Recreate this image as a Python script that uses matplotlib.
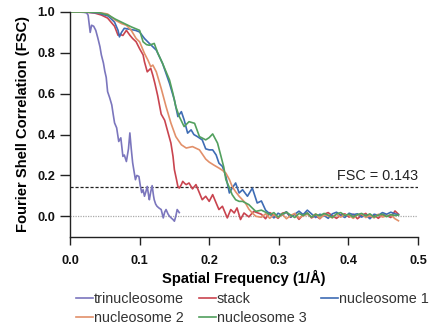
import matplotlib
matplotlib.use("Agg")
import matplotlib.pyplot as plt

plt.rcParams['font.family'] = ['Liberation Sans', 'DejaVu Sans']

# FSC curves (spatial frequency in 1/A, FSC)
tri_x = [0, 0.01, 0.02, 0.024, 0.026, 0.029, 0.031, 0.034, 0.037, 0.040,
         0.043, 0.045, 0.048, 0.050, 0.052, 0.054, 0.057, 0.060, 0.062, 0.064,
         0.067, 0.070, 0.073, 0.076, 0.078, 0.081, 0.084, 0.086, 0.088, 0.090,
         0.092, 0.094, 0.096, 0.099, 0.101, 0.103, 0.105, 0.107, 0.109, 0.111,
         0.113, 0.114, 0.116, 0.118, 0.120, 0.121, 0.123, 0.125, 0.128, 0.131,
         0.134, 0.136, 0.138, 0.141, 0.143, 0.146, 0.148, 0.150, 0.152, 0.154,
         0.157]
tri_y = [1.0, 1.0, 0.998, 0.995, 0.984, 0.90, 0.935, 0.93, 0.91, 0.872,
         0.83, 0.79, 0.75, 0.71, 0.68, 0.61, 0.58, 0.545, 0.50, 0.457,
         0.433, 0.366, 0.384, 0.293, 0.30, 0.268, 0.33, 0.408, 0.33, 0.262,
         0.22, 0.179, 0.20, 0.195, 0.15, 0.116, 0.13, 0.098, 0.12, 0.146,
         0.10, 0.081, 0.12, 0.15, 0.10, 0.081, 0.06, 0.049, 0.04, 0.033,
         -0.008, 0.02, 0.033, 0.01, 0.0, -0.01, -0.016, -0.024, 0.0, 0.033,
         0.018]

stack_x = [0, 0.02, 0.035, 0.045, 0.054, 0.064, 0.069, 0.072, 0.076, 0.081,
           0.086, 0.090, 0.095, 0.100, 0.105, 0.107, 0.111, 0.116, 0.119, 0.122,
           0.126, 0.131, 0.136, 0.140, 0.145, 0.148, 0.150, 0.153, 0.155, 0.157,
           0.160, 0.162, 0.165, 0.167, 0.171, 0.176, 0.181, 0.186, 0.190, 0.195,
           0.200, 0.205, 0.210, 0.214, 0.219, 0.226, 0.231, 0.236, 0.240, 0.245,
           0.250, 0.257, 0.264]
stack_y = [1.0, 1.0, 0.995, 0.985, 0.97, 0.93, 0.886, 0.89, 0.885, 0.91,
           0.886, 0.87, 0.854, 0.82, 0.79, 0.756, 0.707, 0.724, 0.69, 0.65,
           0.59, 0.50, 0.47, 0.42, 0.358, 0.293, 0.228, 0.18, 0.146, 0.138,
           0.155, 0.171, 0.16, 0.155, 0.163, 0.134, 0.155, 0.114, 0.081, 0.098,
           0.073, 0.106, 0.065, 0.033, 0.049, -0.008, 0.033, 0.016, 0.041, -0.016,
           0.016, -0.003, 0.024]

nuc1_x = [0, 0.02, 0.04, 0.055, 0.064, 0.069, 0.071, 0.074, 0.078, 0.086,
          0.094, 0.100, 0.107, 0.114, 0.124, 0.133, 0.143, 0.150, 0.155, 0.160,
          0.164, 0.169, 0.174, 0.178, 0.183, 0.190, 0.195, 0.200, 0.205, 0.210,
          0.214, 0.219, 0.224, 0.229, 0.233, 0.238, 0.243, 0.248, 0.255, 0.262,
          0.269]
nuc1_y = [1.0, 1.0, 0.995, 0.98, 0.95, 0.91, 0.878, 0.90, 0.92, 0.915,
          0.91, 0.902, 0.87, 0.846, 0.813, 0.748, 0.65, 0.569, 0.488, 0.512,
          0.472, 0.407, 0.423, 0.40, 0.39, 0.374, 0.33, 0.325, 0.325, 0.30,
          0.26, 0.244, 0.195, 0.114, 0.138, 0.163, 0.114, 0.13, 0.098, 0.138,
          0.065]

nuc2_x = [0, 0.02, 0.04, 0.054, 0.065, 0.074, 0.081, 0.088, 0.095, 0.100,
          0.107, 0.112, 0.116, 0.119, 0.124, 0.131, 0.138, 0.145, 0.152, 0.160,
          0.167, 0.176, 0.186, 0.195, 0.200, 0.207, 0.214, 0.219, 0.224, 0.229,
          0.233, 0.238, 0.243, 0.248, 0.252, 0.257, 0.262, 0.267]
nuc2_y = [1.0, 1.0, 0.998, 0.99, 0.96, 0.943, 0.935, 0.91, 0.87, 0.854,
          0.797, 0.764, 0.732, 0.74, 0.707, 0.626, 0.537, 0.456, 0.39, 0.35,
          0.334, 0.341, 0.325, 0.28, 0.265, 0.25, 0.236, 0.225, 0.211, 0.18,
          0.146, 0.12, 0.098, 0.08, 0.065, 0.035, 0.016, 0.0]

nuc3_x = [0, 0.02, 0.04, 0.055, 0.065, 0.074, 0.088, 0.100, 0.105, 0.110,
          0.114, 0.121, 0.126, 0.133, 0.143, 0.148, 0.152, 0.157, 0.164, 0.171,
          0.179, 0.186, 0.195, 0.200, 0.205, 0.212, 0.217, 0.221, 0.224, 0.229,
          0.233, 0.238, 0.243, 0.248, 0.257, 0.262, 0.267]
nuc3_y = [1.0, 1.0, 0.998, 0.985, 0.965, 0.95, 0.927, 0.91, 0.854, 0.84,
          0.837, 0.846, 0.80, 0.748, 0.667, 0.60, 0.537, 0.488, 0.439, 0.463,
          0.455, 0.39, 0.374, 0.385, 0.403, 0.358, 0.293, 0.24, 0.179, 0.14,
          0.106, 0.081, 0.073, 0.073, 0.057, 0.04, 0.024]

# noisy tails around zero
tail_x = [0.275, 0.281, 0.287, 0.293, 0.299, 0.305, 0.311, 0.317, 0.323, 0.329,
          0.335, 0.341, 0.347, 0.353, 0.359, 0.365, 0.371, 0.377, 0.383, 0.389,
          0.395, 0.401, 0.407, 0.413, 0.419, 0.425, 0.431, 0.437, 0.443, 0.449,
          0.455, 0.461, 0.467, 0.472]
stack_tail = [0.010, -0.012, 0.018, 0.005, -0.010, 0.015, 0.020, -0.005, 0.012, -0.015,
              0.008, 0.016, -0.008, 0.004, -0.012, 0.010, 0.018, 0.002, -0.010, 0.006,
              0.012, -0.004, 0.010, -0.012, 0.004, 0.014, -0.008, 0.006, -0.010, 0.008,
              0.004, -0.006, 0.026, 0.010]
nuc1_tail = [0.075, 0.030, 0.012, -0.008, 0.015, 0.005, 0.022, -0.004, 0.010, 0.025,
             0.008, 0.030, 0.012, -0.006, 0.010, 0.004, -0.010, 0.012, 0.020, 0.005,
             -0.006, 0.015, 0.008, 0.012, -0.004, 0.006, -0.012, 0.010, 0.005, 0.018,
             0.010, 0.020, 0.012, 0.008]
nuc2_tail = [-0.005, 0.012, -0.010, 0.008, -0.006, 0.010, -0.012, 0.004, 0.014, -0.008,
             0.002, 0.010, -0.004, 0.012, -0.010, 0.006, 0.002, -0.008, 0.010, -0.004,
             0.008, 0.004, -0.010, 0.006, 0.012, -0.006, 0.004, -0.008, 0.010, -0.004,
             0.002, 0.006, -0.012, -0.022]
nuc3_tail = [0.030, 0.020, 0.008, 0.018, -0.004, 0.012, 0.020, 0.006, -0.006, 0.014,
             0.004, 0.016, -0.004, 0.010, 0.002, 0.014, 0.006, -0.006, 0.012, 0.018,
             0.004, 0.010, -0.004, 0.008, 0.014, 0.002, 0.012, -0.004, 0.006, 0.010,
             -0.002, 0.008, 0.004, 0.006]

fsc_cut = 0.143

fig = plt.figure(figsize=(4.36, 3.32), dpi=100)
ax = fig.add_axes([0.1606, 0.287, 0.798, 0.677])

lw = 1.2
l_tri, = ax.plot(tri_x, tri_y, color='#7b76bd', lw=lw, label='trinucleosome')
l_stack, = ax.plot(stack_x + tail_x, stack_y + stack_tail, color='#c9444f', lw=lw, label='stack')
l_n1, = ax.plot(nuc1_x + tail_x, nuc1_y + nuc1_tail, color='#3e6cb4', lw=lw, label='nucleosome 1')
l_n2, = ax.plot(nuc2_x + tail_x, nuc2_y + nuc2_tail, color='#e2906a', lw=lw, label='nucleosome 2')
l_n3, = ax.plot(nuc3_x + tail_x, nuc3_y + nuc3_tail, color='#52a05e', lw=lw, label='nucleosome 3')

ax.axhline(fsc_cut, color='#222222', lw=0.9, ls=(0, (2.5, 1.5)), zorder=0)
ax.axhline(0, color='#aaaaaa', lw=0.9, ls=(0, (1, 1)), zorder=0)
ax.text(0.5, fsc_cut + 0.018, 'FSC = 0.143', ha='right', va='bottom', fontsize=10.4, color='#222222')

ax.set_xlim(0, 0.5)
ax.set_ylim(-0.1, 1.0)
ax.set_xticks([0.0, 0.1, 0.2, 0.3, 0.4, 0.5])
ax.set_yticks([0.0, 0.2, 0.4, 0.6, 0.8, 1.0])
ax.xaxis.set_major_formatter(matplotlib.ticker.FormatStrFormatter('%.1f'))
ax.yaxis.set_major_formatter(matplotlib.ticker.FormatStrFormatter('%.1f'))
for s in ['top', 'right']:
    ax.spines[s].set_visible(False)
for s in ['left', 'bottom']:
    ax.spines[s].set_linewidth(1.0)
    ax.spines[s].set_color('#222222')
ax.tick_params(direction='out', width=1.0, color='#222222', labelsize=9.2, labelcolor='#111111')
ax.tick_params(axis='y', length=7.5, pad=3)
ax.tick_params(axis='x', length=6, pad=7)
for lab in ax.get_xticklabels() + ax.get_yticklabels():
    lab.set_fontweight('bold')

ax.set_xlabel('Spatial Frequency (1/Å)', fontsize=10.6, fontweight='bold', labelpad=2)
ax.set_ylabel('Fourier Shell Correlation (FSC)', fontsize=10.6, fontweight='bold', labelpad=5)

fig.legend(handles=[l_tri, l_n2, l_stack, l_n3, l_n1], ncol=3, loc='upper center',
           bbox_to_anchor=(0.579, 0.137), frameon=False, fontsize=10.4,
           handlelength=1.2, handletextpad=0.05, columnspacing=1.0,
           labelspacing=0.35, borderaxespad=0, labelcolor='#333333')

fig.savefig('out.png', dpi=100)
